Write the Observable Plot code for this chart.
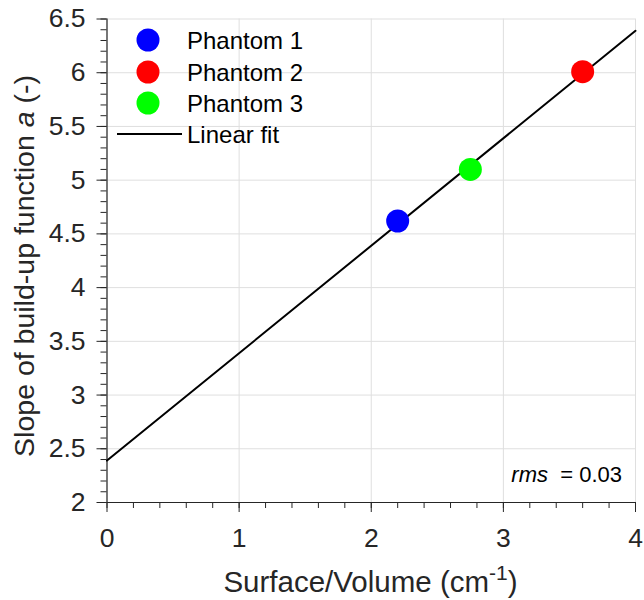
<!DOCTYPE html>
<html><head><meta charset="utf-8">
<script src="https://cdn.jsdelivr.net/npm/d3@7"></script>
<script src="https://cdn.jsdelivr.net/npm/@observablehq/plot@0.6"></script>
<style>
html,body{margin:0;padding:0;background:#fff;}
#chart{position:relative;width:644px;height:600px;}
</style></head>
<body><div id="chart"></div>
<script>
const phantoms = ["Phantom 1", "Phantom 2", "Phantom 3"];
const surfaceVolume = [2.2, 3.6, 2.75];
const slopeA = [4.62, 6.01, 5.1];
const colors = ["#0000ff", "#ff0000", "#00ff00"];
const fitX = [0, 4];
const fitY = [2.39, 6.39];
const xTicks = [0, 1, 2, 3, 4];
const yTicks = [2, 2.5, 3, 3.5, 4, 4.5, 5, 5.5, 6, 6.5];
const rmsValue = "0.03";

const points = phantoms.map((name, i) => ({name, x: surfaceVolume[i], y: slopeA[i], color: colors[i]}));
const fit = fitX.map((x, i) => ({x, y: fitY[i]}));
const xMinor = d3.range(0, 4.0001, 0.2).map(v => +v.toFixed(2));
const yMinor = d3.range(2, 6.5001, 0.1).map(v => +v.toFixed(2));

const FONT = "'Liberation Sans', Arial, Helvetica, sans-serif";
const ink = "#262626";

const plot = Plot.plot({
  width: 644, height: 600,
  marginLeft: 106.5, marginRight: 9, marginTop: 18.5, marginBottom: 98,
  x: {domain: [0, 4]},
  y: {domain: [2, 6.5]},
  style: {fontFamily: FONT, fontSize: "26px", color: ink, background: "#fff", overflow: "visible"},
  marks: [
    Plot.gridX(xTicks, {stroke: "#dfdfdf", strokeOpacity: 1, strokeWidth: 1}),
    Plot.gridY(yTicks, {stroke: "#dfdfdf", strokeOpacity: 1, strokeWidth: 1}),
    Plot.axisX({ticks: xMinor, tickSize: 6, text: null, label: null, stroke: ink}),
    Plot.axisY({ticks: yMinor, tickSize: 6, text: null, label: null, stroke: ink}),
    Plot.axisX({ticks: xTicks, tickSize: 10, tickPadding: 16, label: null, stroke: ink, fill: ink, fontSize: 26.5, tickFormat: d => String(d)}),
    Plot.axisY({ticks: yTicks, tickSize: 10, tickPadding: 11.5, label: null, stroke: ink, fill: ink, fontSize: 26.5, tickFormat: d => String(d)}),
    Plot.ruleX([0], {stroke: ink, strokeWidth: 1.2}),
    Plot.ruleY([2], {stroke: ink, strokeWidth: 1.2}),
    Plot.line(fit, {x: "x", y: "y", stroke: "#000", strokeWidth: 2}),
    Plot.dot(points, {x: "x", y: "y", fill: "color", r: 11.5, stroke: null})
  ]
});
document.getElementById("chart").appendChild(plot);

const svg = d3.select(plot);
// Y axis label
const yl = svg.append("text")
  .attr("transform", "translate(34,266) rotate(-90)")
  .attr("text-anchor", "middle")
  .attr("font-family", FONT).attr("font-size", 28.5).attr("fill", ink);
yl.append("tspan").text("Slope of build-up function ");
yl.append("tspan").attr("font-style", "italic").text("a");
yl.append("tspan").text(" (-)");
// X axis label
const xl = svg.append("text")
  .attr("x", 370.5).attr("y", 592)
  .attr("text-anchor", "middle")
  .attr("font-family", FONT).attr("font-size", 29.5).attr("fill", ink);
xl.append("tspan").text("Surface/Volume (cm");
xl.append("tspan").attr("font-size", 21).attr("dy", -12).text("-1");
xl.append("tspan").attr("dy", 12).text(")");
// rms annotation
const rt = svg.append("text")
  .attr("x", 622).attr("y", 482)
  .attr("text-anchor", "end")
  .attr("font-family", FONT).attr("font-size", 22).attr("fill", "#000");
rt.append("tspan").attr("font-style", "italic").text("rms");
rt.append("tspan").text("\u00a0 = " + rmsValue);

// Legend
const leg = svg.append("g").attr("font-family", FONT).attr("font-size", 24).attr("fill", "#000");
const rowsY = [40, 72, 103, 134];
points.forEach((p, i) => {
  leg.append("circle").attr("cx", 148).attr("cy", rowsY[i]).attr("r", 11.5).attr("fill", p.color);
  leg.append("text").attr("x", 187).attr("y", rowsY[i]).attr("dy", "0.36em").attr("text-anchor", "start").text(p.name);
});
leg.append("line").attr("x1", 117).attr("x2", 182).attr("y1", rowsY[3]).attr("y2", rowsY[3]).attr("stroke", "#000").attr("stroke-width", 2);
leg.append("text").attr("x", 187).attr("y", rowsY[3]).attr("dy", "0.36em").attr("text-anchor", "start").text("Linear fit");
</script></body></html>
